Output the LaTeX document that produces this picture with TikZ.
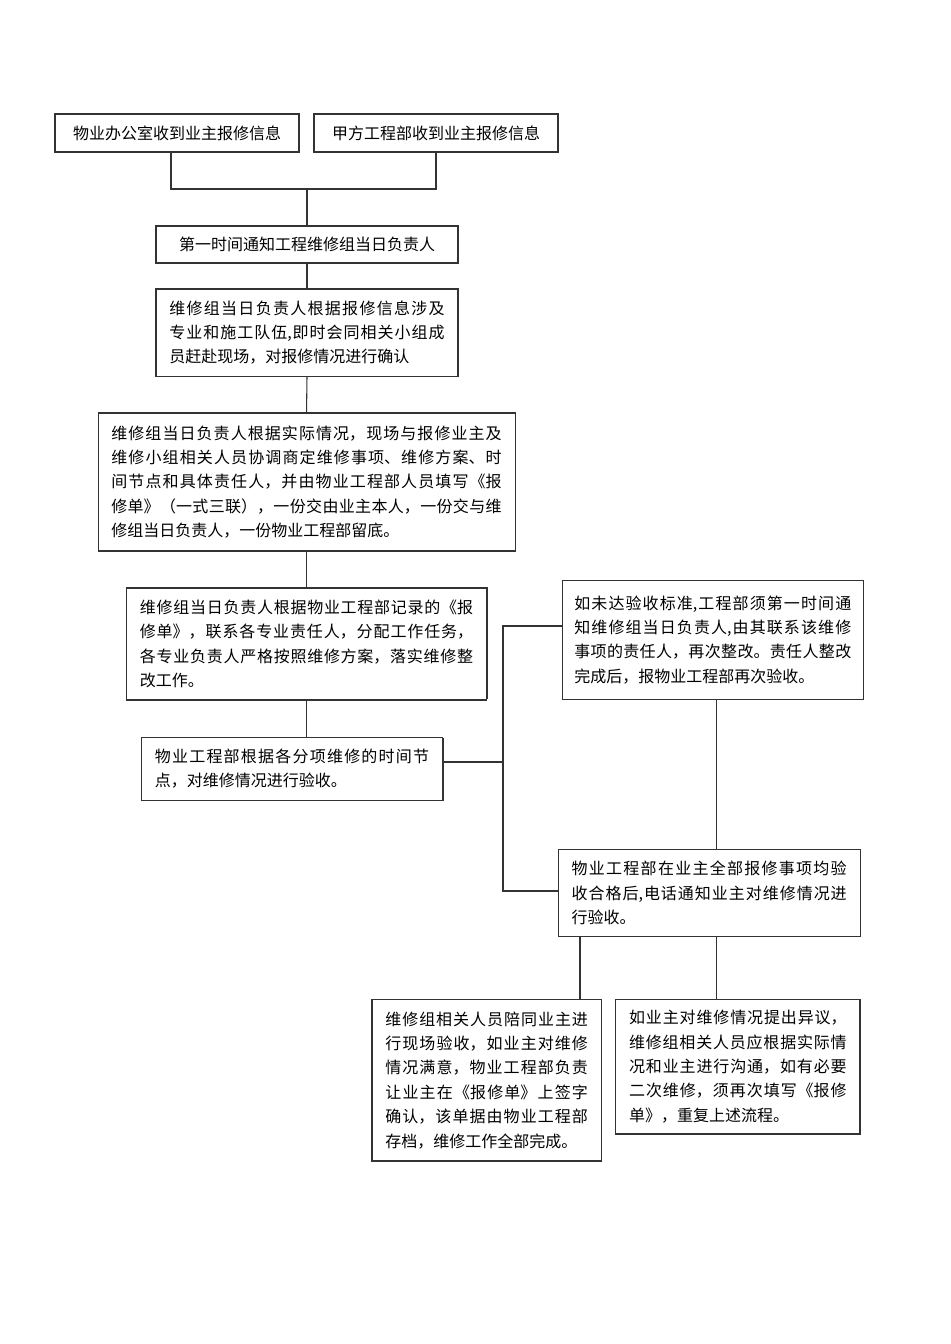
\documentclass[tikz,border=0pt]{standalone}
\usepackage{fontspec}
\setmainfont{Noto Sans CJK SC}
\XeTeXlinebreaklocale "zh"
\XeTeXlinebreakskip = 0pt plus 2pt
\usetikzlibrary{shadows}

\begin{document}
\begin{tikzpicture} 
	 [scale =1] 
	 \tikzset{every node/.style={font=\fontsize{12pt}{18.3pt}\selectfont}}
	\tikzstyle{flowbox}=[rectangle,draw=black!80,line width=0.8pt,fill=white,inner xsep=10pt,inner ysep=4pt]
	\tikzstyle{textbox}=[flowbox,align=justify]
	\tikzstyle{lowshade}=[drop shadow={shadow xshift=0.9pt,shadow yshift=-0.9pt,fill=black!80,opacity=1}]
	\tikzstyle{highshade}=[drop shadow={shadow xshift=0.9pt,shadow yshift=0.9pt,fill=black!80,opacity=1}]
	\tikzstyle{link}=[draw=black!80,line width=0.8pt]
	\useasboundingbox (0pt,0pt) rectangle (712.5pt,-1008pt);
	\node [flowbox,minimum width=183pt,minimum height=28.5pt] (b1) at (132.75pt,-99.75pt) {物业办公室收到业主报修信息};
	\node [flowbox,minimum width=183pt,minimum height=28.5pt] (b2) at (327.0pt,-99.75pt) {甲方工程部收到业主报修信息};
	\node [flowbox,minimum width=226.5pt,minimum height=27.75pt] (b3) at (230.25pt,-183.4pt) {第一时间通知工程维修组当日负责人};
	\node [textbox,text width=206.5pt,minimum height=65.25pt] (b4) at (230.25pt,-249.4pt) {维修组当日负责人根据报修信息涉及\linebreak 专业和施工队伍,即时会同相关小组成\linebreak 员赶赴现场，对报修情况进行确认};
	\node [textbox,lowshade,text width=292.75pt,minimum height=103.5pt] (b5) at (229.9pt,-361.5pt) {维修组当日负责人根据实际情况，现场与报修业主及\linebreak 维修小组相关人员协调商定维修事项、维修方案、时\linebreak 间节点和具体责任人，并由物业工程部人员填写《报\linebreak 修单》（一式三联），一份交由业主本人，一份交与维\linebreak 修组当日负责人，一份物业工程部留底。};
	\node [textbox,highshade,text width=250pt,minimum height=84pt] (b6) at (229.9pt,-483.0pt) {维修组当日负责人根据物业工程部记录的《报\linebreak 修单》，联系各专业责任人，分配工作任务，\linebreak 各专业负责人严格按照维修方案，落实维修整\linebreak 改工作。};
	\node [textbox,lowshade,text width=205.75pt,minimum height=47.25pt] (b7) at (219.0pt,-576.4pt) {物业工程部根据各分项维修的时间节\linebreak 点，对维修情况进行验收。};
	\node [textbox,inner xsep=9pt,text width=207.75pt,minimum height=89.5pt] (b8) at (534.6pt,-479.8pt) {如未达验收标准,工程部须第一时间通\linebreak 知维修组当日负责人,由其联系该维修\linebreak 事项的责任人，再次整改。责任人整改\linebreak 完成后，报物业工程部再次验收。};
	\node [textbox,text width=206.3pt,minimum height=65.5pt] (b9) at (531.9pt,-669.75pt) {物业工程部在业主全部报修事项均验\linebreak 收合格后,电话通知业主对维修情况进\linebreak 行验收。};
	\node [textbox,text width=152pt,minimum height=121.3pt] (b10) at (365.0pt,-810.1pt) {维修组相关人员陪同业主进\linebreak 行现场验收，如业主对维修\linebreak 情况满意，物业工程部负责\linebreak 让业主在《报修单》上签字\linebreak 确认，该单据由物业工程部\linebreak 存档，维修工作全部完成。};
	\node [textbox,text width=163.2pt,minimum height=101pt] (b11) at (553.4pt,-800.0pt) {如业主对维修情况提出异议，\linebreak 维修组相关人员应根据实际情\linebreak 况和业主进行沟通，如有必要\linebreak 二次维修，须再次填写《报修\linebreak 单》，重复上述流程。};
	\coordinate (j1) at (230.25pt,-141.75pt);
	\coordinate (k1) at (377.25pt,-571.5pt);
	\coordinate (k2) at (377.25pt,-469.5pt);
	\coordinate (k3) at (377.25pt,-668.25pt);
	\draw[link] ([xshift=-4.5pt]b1.south) |- (j1);
	\draw[link] (b2.south) |- (j1);
	\draw[link] (j1) -- (b3.north);
	\draw[link] (b3.south) -- (b4.north);
	\draw[link] (b4.south) -- (b5.north);
	\draw[link] (b5.south) -- (b6.north);
	\draw[link] (b6.south) -- (b6.south |- b7.north);
	\draw[link] (k1 -| b7.east) -- (k1);
	\draw[link] (b8.west |- k2) -- (k2) -- (k3) -- (b9.west |- k3);
	\draw[link] ([xshift=2.9pt]b8.south) -- ([xshift=2.9pt]b8.south |- b9.north);
	\draw[link] ([xshift=-96.9pt]b9.south) -- ([xshift=-96.9pt]b9.south |- b10.north);
	\draw[link] ([xshift=5.6pt]b9.south) -- ([xshift=5.6pt]b9.south |- b11.north);
	\end{tikzpicture}
\end{document}
